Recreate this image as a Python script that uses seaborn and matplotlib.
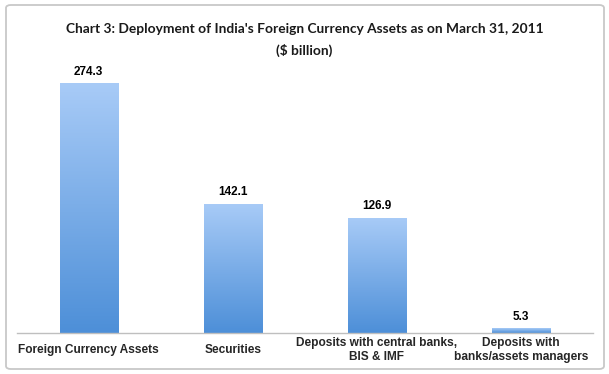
import numpy as np
import pandas as pd
import seaborn as sns
import matplotlib
matplotlib.use('Agg')
from matplotlib import pyplot as plt
from matplotlib.colors import LinearSegmentedColormap
from matplotlib.patches import FancyBboxPatch

# Данные графика
categories = ['Foreign Currency Assets', 'Securities',
              'Deposits with central banks,\nBIS & IMF',
              'Deposits with\nbanks/assets managers']
values = [274.3, 142.1, 126.9, 5.3]
value_labels = ['274.3', '142.1', '126.9', '5.3']

df = pd.DataFrame({'cat': categories, 'val': values})

sns.set_theme(style='white')
plt.rcParams['font.family'] = ['Liberation Sans', 'DejaVu Sans']

fig = plt.figure(figsize=(6.09, 3.74), dpi=100)
ax = fig.add_axes([0.0274, 0.1088, 0.9463, 0.731])

sns.barplot(data=df, x='cat', y='val', width=0.403, color='#7aaae8',
            saturation=1, ax=ax)

# Градиент в каждом столбце (светлый сверху, темнее снизу)
cmap = LinearSegmentedColormap.from_list('grad', ['#4d8fd8', '#a8cbf7'])
grad = np.linspace(0, 1, 256).reshape(-1, 1)
for p in ax.patches:
    x0, y0 = p.get_x(), p.get_y()
    w, h = p.get_width(), p.get_height()
    p.set_facecolor('none')
    p.set_edgecolor('none')
    im = ax.imshow(grad, cmap=cmap, origin='lower', aspect='auto',
                   extent=(x0, x0 + w, y0, y0 + h), zorder=2)
    im.set_clip_path(p)

ax.set_xlim(-0.5, 3.5)
ax.set_ylim(0, 300)

# Подписи значений
for i, (v, lab) in enumerate(zip(values, value_labels)):
    ax.annotate(lab, (i, v), xytext=(0, 8.5), textcoords='offset points',
                ha='center', va='center', fontsize=8.5, fontweight='bold',
                color='black')

ax.set_xlabel('')
ax.set_ylabel('')
ax.set_yticks([])
ax.tick_params(axis='x', length=0, pad=12)
for t in ax.get_xticklabels():
    t.set_fontsize(8.6)
    t.set_fontweight('bold')
    t.set_verticalalignment('center')
    t.set_multialignment('center')
for s in ['top', 'left', 'right']:
    ax.spines[s].set_visible(False)
ax.spines['bottom'].set_color('#bfbfbf')
ax.spines['bottom'].set_linewidth(1)

fig.text(0.5, 1 - 29 / 374,
         "Chart 3: Deployment of India's Foreign Currency Assets as on March 31, 2011",
         ha='center', va='center', fontsize=9.9, fontweight='bold',
         family=['Lato', 'DejaVu Sans'], color='#1a1a1a')
fig.text(0.5, 1 - 50 / 374, '($ billion)', ha='center', va='center',
         fontsize=9.9, fontweight='bold', family=['Lato', 'DejaVu Sans'],
         color='#1a1a1a')

# Рамка вокруг графика
frame = FancyBboxPatch((6 / 609, 5 / 374), 598 / 609, 364 / 374,
                       boxstyle='round,pad=0,rounding_size=0.008',
                       transform=fig.transFigure, fill=False,
                       edgecolor='#c8c8c8', linewidth=1.3)
fig.patches.append(frame)

fig.savefig('out.png', dpi=100)
